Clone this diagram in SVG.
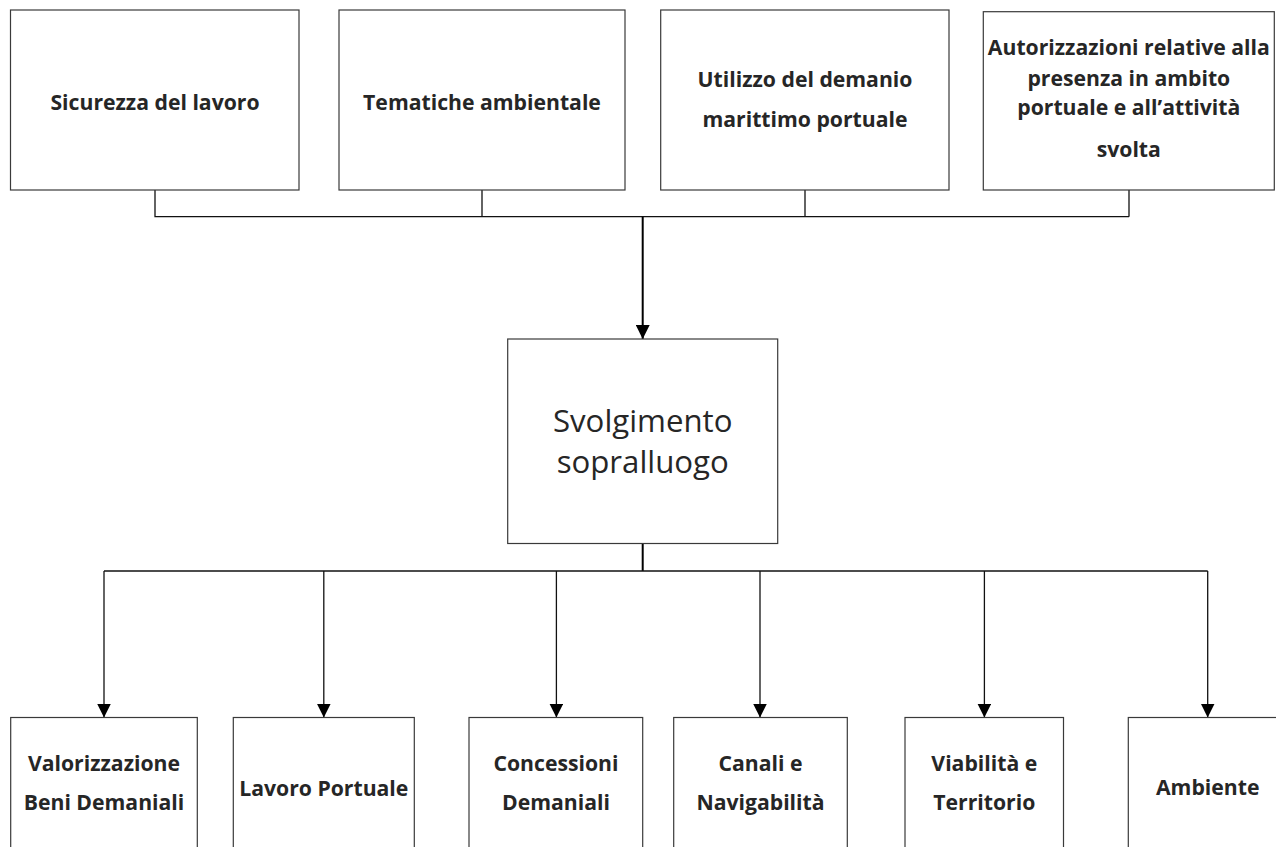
<svg xmlns="http://www.w3.org/2000/svg" width="1276" height="847" viewBox="0 0 1276 847">
<style>
.box{fill:#fff;stroke:#3a3a3a;stroke-width:1.2}
.lbl{font-family:"Open Sans","Liberation Sans",sans-serif;font-weight:bold;font-size:21.2px;fill:#262626;text-anchor:middle}
.big{font-family:"Open Sans","Liberation Sans",sans-serif;font-size:31.2px;fill:#262626;text-anchor:middle}
.con{fill:none;stroke:#111;stroke-width:1.3}
.main{fill:none;stroke:#000;stroke-width:2}
</style>
<defs>
<marker id="arr" markerUnits="userSpaceOnUse" markerWidth="14" markerHeight="14" refX="14" refY="7" orient="auto" viewBox="0 0 14 14">
<path d="M0,0 L14,7 L0,14 Z" fill="#000"/>
</marker>
</defs>
<rect width="1276" height="847" fill="#fff"/>
<g id="connectors">
<path class="con" d="M155,190 V216.7 H1129 M482,190 V216.7 M805,190 V216.7 M1129,190 V216.7"/>
<path class="main" d="M642.7,216.7 V339" marker-end="url(#arr)"/>
<path class="main" d="M642.7,543.5 V571"/>
<path class="con" d="M104,571 H1207.7"/>
<path class="con" d="M104,571 V717.5" marker-end="url(#arr)"/>
<path class="con" d="M323.8,571 V717.5" marker-end="url(#arr)"/>
<path class="con" d="M556.4,571 V717.5" marker-end="url(#arr)"/>
<path class="con" d="M760,571 V717.5" marker-end="url(#arr)"/>
<path class="con" d="M984.4,571 V717.5" marker-end="url(#arr)"/>
<path class="con" d="M1207.7,571 V717.5" marker-end="url(#arr)"/>
</g>
<g id="n-sicurezza">
<rect class="box" x="10.5" y="10" width="288.5" height="180"/>
<text class="lbl" x="155" y="110">Sicurezza del lavoro</text>
</g>
<g id="n-tematiche">
<rect class="box" x="339" y="10" width="286" height="180"/>
<text class="lbl" x="482" y="110">Tematiche ambientale</text>
</g>
<g id="n-utilizzo">
<rect class="box" x="660.7" y="10" width="288.3" height="180"/>
<text class="lbl" x="805" y="87.3">Utilizzo del demanio</text>
<text class="lbl" x="805" y="126.7">marittimo portuale</text>
</g>
<g id="n-autorizzazioni">
<rect class="box" x="983.3" y="11.7" width="291" height="178.3"/>
<text class="lbl" x="1128.8" y="55">Autorizzazioni relative alla</text>
<text class="lbl" x="1128.8" y="86">presenza in ambito</text>
<text class="lbl" x="1128.8" y="115">portuale e all’attività</text>
<text class="lbl" x="1128.8" y="156.7">svolta</text>
</g>
<g id="n-svolgimento">
<rect class="box" x="507.7" y="339" width="270" height="204.5"/>
<text class="big" x="642.7" y="431.7">Svolgimento</text>
<text class="big" x="642.7" y="473">sopralluogo</text>
</g>
<g id="n-valorizzazione">
<rect class="box" x="10.7" y="717.5" width="186.6" height="150"/>
<text class="lbl" x="104" y="771">Valorizzazione</text>
<text class="lbl" x="104" y="810">Beni Demaniali</text>
</g>
<g id="n-lavoro">
<rect class="box" x="233.3" y="717.5" width="181" height="150"/>
<text class="lbl" x="323.8" y="795.7">Lavoro Portuale</text>
</g>
<g id="n-concessioni">
<rect class="box" x="469" y="717.5" width="173.7" height="150"/>
<text class="lbl" x="556" y="771">Concessioni</text>
<text class="lbl" x="556" y="810">Demaniali</text>
</g>
<g id="n-canali">
<rect class="box" x="673.7" y="717.5" width="173.6" height="150"/>
<text class="lbl" x="760.5" y="771">Canali e</text>
<text class="lbl" x="760.5" y="810">Navigabilità</text>
</g>
<g id="n-viabilita">
<rect class="box" x="905" y="717.5" width="158.5" height="150"/>
<text class="lbl" x="984.3" y="771">Viabilità e</text>
<text class="lbl" x="984.3" y="810">Territorio</text>
</g>
<g id="n-ambiente">
<rect class="box" x="1128.3" y="717.5" width="158.7" height="150"/>
<text class="lbl" x="1207.7" y="795">Ambiente</text>
</g>
</svg>
